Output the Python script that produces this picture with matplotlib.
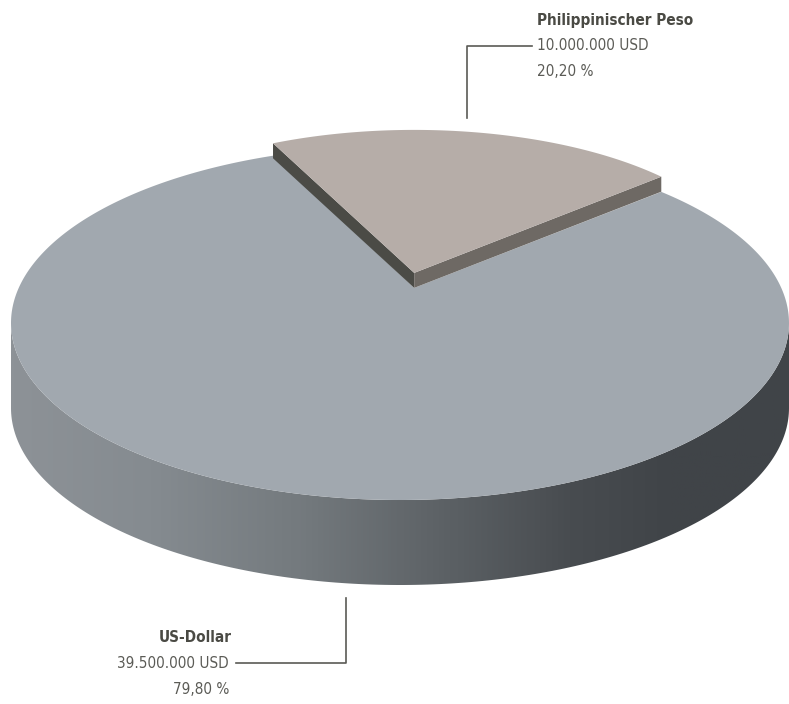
import numpy as np
import matplotlib.pyplot as plt
from matplotlib.patches import Polygon
from matplotlib.colors import LinearSegmentedColormap

# data
labels = ["US-Dollar", "Philippinischer Peso"]
amounts = ["39.500.000 USD", "10.000.000 USD"]
shares = [79.80, 20.20]

plt.rcParams['font.family'] = ['DejaVu Sans']
plt.rcParams['font.stretch'] = 'condensed'

fig = plt.figure(figsize=(7.89, 7.04), dpi=100)
ax = fig.add_axes([0, 0, 1, 1])
ax.set_xlim(0, 789)
ax.set_ylim(704, 0)
ax.axis('off')

# pie geometry (pixel space)
cx, cy = 400, 323
rx, ry = 389, 177
depth = 85

# peso slice angles
peso_span = shares[1] / sum(shares) * 360
peso_end = 115.0
peso_start = peso_end - peso_span
peso_mid = (peso_start + peso_end) / 2

# slice is lifted out of the pie
srx, sry = 334, 143
thick = 15
ax_ = cx + 0.185 * rx * np.cos(np.radians(peso_mid))
ay_ = cy - 0.185 * ry * np.sin(np.radians(peso_mid)) - 18


def ell(x0, y0, a, b, t):
    t = np.radians(t)
    return x0 + a * np.cos(t), y0 - b * np.sin(t)


# side of the main pie with horizontal shading
t = np.linspace(180, 360, 200)
tx, ty = ell(cx, cy, rx, ry, t)
side_pts = np.column_stack([np.r_[tx, tx[::-1]], np.r_[ty, ty[::-1] + depth]])
side = Polygon(side_pts, closed=True, facecolor='none', edgecolor='none')
ax.add_patch(side)
shade = LinearSegmentedColormap.from_list('shade', [
    (0.0, '#8d9297'), (0.18, '#858b90'), (0.37, '#747a7e'),
    (0.55, '#5d6266'), (0.72, '#484c50'), (0.85, '#404448'), (1.0, '#404448')])
grad = np.linspace(0, 1, 400).reshape(1, -1)
img = ax.imshow(grad, cmap=shade, aspect='auto',
                extent=(cx - rx, cx + rx, cy + ry + depth + 2, cy - 2), zorder=1)
img.set_clip_path(side)

# top of the main pie: edges meet the lifted slice
lx, ly = ell(ax_, ay_, srx, sry, peso_end)
rxp, ryp = ell(ax_, ay_, srx, sry, peso_start)
t1 = np.degrees(np.arccos((lx - cx) / rx))
t2 = np.degrees(np.arccos((rxp - cx) / rx))
t = np.linspace(t1, t2 + 360, 400)
tx, ty = ell(cx, cy, rx, ry, t)
top_pts = np.column_stack([np.r_[ax_, tx], np.r_[ay_ + thick, ty]])
ax.add_patch(Polygon(top_pts, closed=True, facecolor='#a1a8af', edgecolor='none', zorder=2))

# slice faces
ax.add_patch(Polygon([(ax_, ay_), (lx, ly), (lx, ly + thick), (ax_, ay_ + thick)],
                     closed=True, facecolor='#4b4b46', edgecolor='none', zorder=3))
ax.add_patch(Polygon([(ax_, ay_), (rxp, ryp), (rxp, ryp + thick), (ax_, ay_ + thick)],
                     closed=True, facecolor='#6e6964', edgecolor='none', zorder=3))
t = np.linspace(peso_start, peso_end, 200)
tx, ty = ell(ax_, ay_, srx, sry, t)
ax.add_patch(Polygon(np.column_stack([np.r_[ax_, tx], np.r_[ay_, ty]]), closed=True,
                     facecolor='#b6ada8', edgecolor='none', zorder=4))

# labels and leader lines
line_c = '#5a5a55'
bold_c = '#4a4a44'
txt_c = '#5b5b56'
fs = 11

ax.plot([467, 467, 532], [118, 46, 46], color=line_c, lw=1.2, zorder=5)
ax.text(537, 20, labels[1], fontsize=fs, fontweight='bold', color=bold_c, va='center')
ax.text(537, 46, amounts[1], fontsize=fs, color=txt_c, va='center')
ax.text(537, 72, f"{shares[1]:.2f} %".replace('.', ','), fontsize=fs, color=txt_c, va='center')

ax.plot([346, 346, 236], [598, 663, 663], color=line_c, lw=1.2, zorder=5)
ax.text(232, 637, labels[0], fontsize=fs, fontweight='bold', color=bold_c, va='center', ha='right')
ax.text(229, 663, amounts[0], fontsize=fs, color=txt_c, va='center', ha='right')
ax.text(229, 690, f"{shares[0]:.2f} %".replace('.', ','), fontsize=fs, color=txt_c, va='center', ha='right')

fig.savefig('out.png', dpi=100)
